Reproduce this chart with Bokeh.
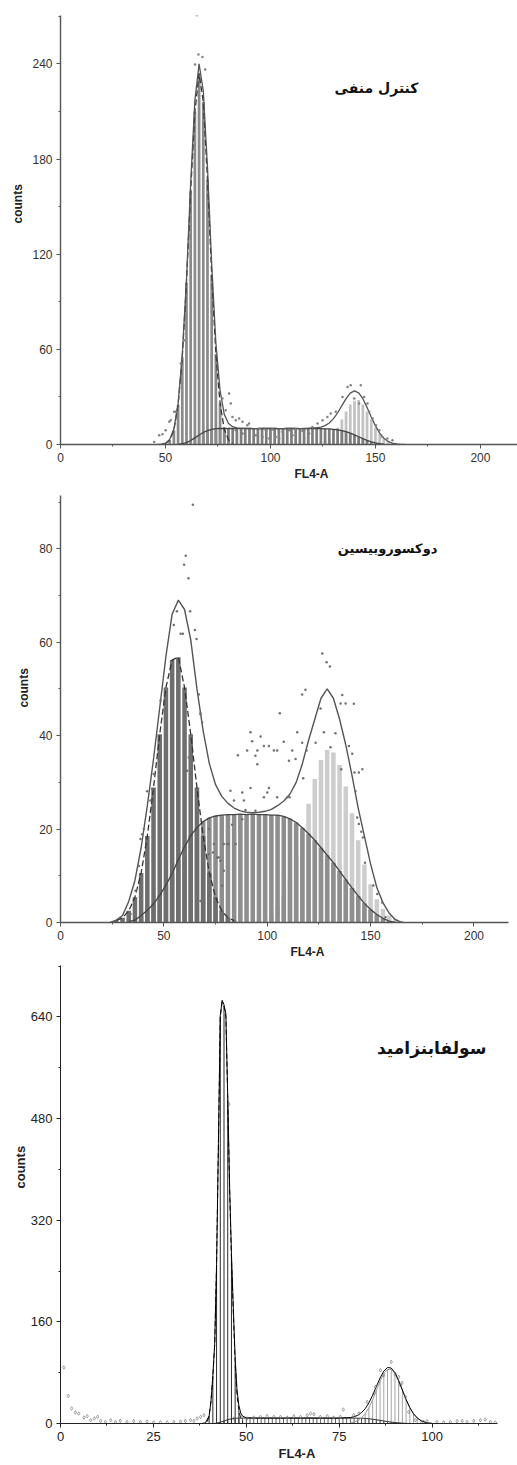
import math
from bokeh.plotting import figure
from bokeh.models import Range1d, FixedTicker, Label, Title
from bokeh.layouts import column
from bokeh.embed import file_html
from bokeh.resources import INLINE

# ---------------- Panel 1 : negative control ----------------
p1_title = "کنترل منفی"
p1_xticks = [0, 50, 100, 150, 200]
p1_xminor = [25, 75, 125, 175, 225]
p1_yticks = [0, 60, 120, 180, 240]
p1_yminor = [30, 90, 150, 210, 270]

p1_g1_x = [50, 52, 54, 56, 58, 60, 62, 64, 66, 68, 70, 72, 74, 76, 78, 80, 82]
p1_g1_y = [0.5, 2.8, 9, 25, 55, 102, 160, 210, 234, 216, 167, 107, 57, 26, 9.5, 3, 0.6]

p1_s_x = [56, 58, 60, 62, 64, 66, 68, 70, 72, 74, 76, 78, 80, 82, 84, 86, 88, 90, 92, 94,
          96, 98, 100, 102, 104, 106, 108, 110, 112, 114, 116, 118, 120, 122, 124, 126,
          128, 130, 132, 134, 136, 138, 140, 142, 144, 146, 148, 150, 152, 154]
p1_s_y = [0, 0.5, 1.2, 2.5, 4.2, 6.0, 7.6, 8.8, 9.6, 10.0, 10.1, 10.2, 10.1, 10.1, 10.0, 10.1,
          10.2, 10.1, 10.0, 10.0, 10.1, 10.1, 10.2, 10.1, 10.0, 10.0, 10.1, 10.2, 10.1, 10.0,
          10.0, 10.1, 10.1, 10.0, 10.0, 9.9, 9.8, 9.6, 9.3, 8.8, 8.1, 7.2, 6.1, 4.9, 3.7, 2.6,
          1.7, 1.0, 0.5, 0.2]

p1_g2_x = [124, 126, 128, 130, 132, 134, 136, 138, 140, 142, 144, 146, 148, 150, 152, 154,
           156, 158, 160, 162]
p1_g2_y = [0.9, 2.0, 3.8, 6.7, 10.7, 15.7, 20.8, 25.2, 27.6, 28.0, 25.2, 20.8, 15.7, 10.7,
           6.7, 3.8, 2.0, 0.9, 0.4, 0.1]

p1_fit_x = [46, 48, 50, 52, 54, 56, 58, 60, 62, 64, 66, 68, 70, 72, 74, 76, 78, 80, 82, 84,
            86, 88, 90, 92, 94, 96, 98, 100, 102, 104, 106, 108, 110, 112, 114, 116, 118, 120,
            122, 124, 126, 128, 130, 132, 134, 136, 138, 140, 142, 144, 146, 148, 150, 152,
            154, 156, 158, 160, 162, 164]
p1_fit_y = [0, 0.2, 0.8, 3.2, 9.8, 25.5, 56.5, 104, 165, 217, 240, 223, 175, 114, 64, 34, 19,
            13.2, 11.2, 10.5, 10.2, 10.2, 10.1, 10.0, 10.0, 10.1, 10.1, 10.2, 10.1, 10.0, 10.0,
            10.1, 10.2, 10.1, 10.0, 10.1, 10.2, 10.4, 10.6, 10.9, 11.9, 13.6, 16.3, 20.0, 24.5,
            28.9, 32.4, 33.8, 32.6, 28.9, 23.4, 17.4, 11.7, 7.2, 4.0, 2.0, 0.9, 0.4, 0.1, 0]

p1_dot_x = [44.6, 47, 48.6, 50.1, 51.8, 52.5, 54.1, 54.9, 57.3, 58.9, 64.9, 65.7, 67.6, 64.1,
            68.9, 77.1, 80.3, 78.7, 81.1, 81.9, 83.5, 85.1, 86.7, 89, 89.8, 83.5, 86.7, 93,
            96.2, 99.4, 102.5, 94.6, 97.8, 101, 105.7, 108.9, 112, 115.2, 104.1, 110.5, 116,
            118.4, 120, 122.4, 124.8, 127.1, 128.7, 131.1, 134.3, 136.7, 138.2, 143, 144.6,
            146.2, 147, 148.6, 150.2, 151.8, 153.3, 155.7, 158.1, 139.9, 142.2]
p1_dot_y = [1.6, 5.9, 6.5, 9, 14.3, 15.3, 20.6, 20.6, 51.1, 65.8, 270.7, 245.9, 244.4, 239.6,
            236.4, 29, 32.2, 21.6, 25.9, 17.4, 15.3, 16.4, 14.3, 12.2, 13.2, 9, 6.9, 5.9, 4.8,
            3.8, 4.8, 10.1, 9, 9.5, 8, 9, 9.5, 8.6, 3.8, 5.9, 3.8, 6.9, 11.1, 13.2, 15.3, 17.4,
            19.5, 20.6, 30, 36.3, 37.4, 37.4, 30, 25.9, 20.6, 16.4, 12.2, 9, 4.8, 3.8, 2.7,
            29, 25.9]

# ---------------- Panel 2 : doxorubicin ----------------
p2_title = "دوکسوروبیسین"
p2_xticks = [0, 50, 100, 150, 200]
p2_xminor = [25, 75, 125, 175]
p2_yticks = [0, 20, 40, 60, 80]
p2_yminor = [10, 30, 50, 70, 90]

p2_g1_x = [27, 30, 33, 36, 39, 42, 45, 48, 51, 54, 57, 60, 63, 66, 69, 72, 75, 78, 81, 84]
p2_g1_y = [0.4, 1.0, 2.5, 5.4, 10.6, 18.5, 28.9, 40.3, 50.3, 56.2, 56.8, 50.3, 40.3, 28.9,
           18.5, 10.6, 5.4, 2.5, 1.0, 0.4]

p2_s_x = [33, 36, 39, 42, 45, 48, 51, 54, 57, 60, 63, 66, 69, 72, 75, 78, 81, 84, 87, 90, 93,
          96, 99, 102, 105, 108, 111, 114, 117, 120, 123, 126, 129, 132, 135, 138, 141, 144,
          147, 150, 153, 156, 159, 162]
p2_s_y = [0.2, 0.5, 1.5, 2.6, 4.0, 5.8, 8.0, 10.5, 13.5, 16.2, 18.6, 20.3, 21.6, 22.4, 22.8,
          23.0, 23.1, 23.1, 23.2, 23.1, 23.2, 23.1, 23.1, 23.0, 23.0, 22.7, 22.2, 21.4, 20.3,
          19.0, 17.6, 16.0, 14.4, 12.8, 11.0, 9.2, 7.4, 5.7, 4.1, 2.8, 1.7, 0.9, 0.3, 0.0]

p2_g2_x = [96, 99, 102, 105, 108, 111, 114, 117, 120, 123, 126, 129, 132, 135, 138, 141, 144,
           147, 150, 153, 156, 159, 162, 165]
p2_g2_y = [0.5, 1.0, 1.9, 3.5, 5.9, 9.4, 14.1, 19.5, 25.4, 30.7, 34.8, 36.9, 36.4, 33.7, 29.1,
           23.4, 17.6, 12.4, 8.2, 5.0, 2.9, 1.5, 0.8, 0.4]

p2_fit_x = [24, 27, 30, 33, 36, 39, 42, 45, 48, 51, 54, 57, 60, 63, 66, 69, 72, 75, 78, 81, 84,
            87, 90, 93, 96, 99, 102, 105, 108, 111, 114, 117, 120, 123, 126, 129, 132, 135,
            138, 141, 144, 147, 150, 153, 156, 159, 162, 165]
p2_fit_y = [0, 0.5, 1.5, 4.5, 9, 16, 25, 35, 46, 57, 66, 69, 67, 60.5, 50, 41, 34, 29.5, 27,
            25.5, 24.5, 23.9, 23.6, 23.5, 23.6, 23.8, 24.2, 25, 26, 27.5, 30, 34, 39, 43.5, 48,
            50, 48, 43.5, 38, 31.5, 24.5, 18.5, 12.5, 7.5, 4.2, 2.0, 0.6, 0]

p2_dot_x = [64.0, 60.6, 59.8, 61.9, 56.3, 62.7, 54.8, 58.1, 59.2, 65.0, 65.8, 66.9, 67.7,
            126.6, 128.7, 130.3, 118.5, 116.9, 125.8, 136.3, 135.5, 137.9, 106.1, 141.9,
            91.9, 96.8, 92.7, 90.3, 95.2, 98.4, 100.8, 103.2, 104.8, 94.3, 85.8, 95.2, 108,
            112.1, 113.7, 110.5, 116.9, 114.5, 119, 117.4, 123.4, 127.4, 133, 130.6, 135.8,
            139.5, 141.1, 142.2, 144.3, 146, 142.7, 143.5, 144.3, 145.5, 146.3, 147.3, 151.3,
            153.2, 155.6, 157.2, 82.2, 83.9, 87.9, 88.7, 91.9, 98.4, 100, 100.8, 104.8, 109.7,
            110.8, 87.9, 94.3, 89.5, 83, 71.7, 71.7, 75.8, 76.6, 77.4, 79, 80.6, 81.4, 84.7,
            74.2, 78.2, 79, 66.1, 67.7, 73.8, 62.1, 61.3, 67.7, 68.5, 41.9, 44.4, 43.5, 40.3,
            39.5, 38.7, 37.9, 36.3, 33.9, 45.1, 48.4]
p2_dot_y = [89.4, 78.5, 76.6, 73.7, 66.6, 66.6, 63.7, 61.8, 61.8, 62.6, 60.7, 48.8, 44.8,
            57.6, 55.7, 54.8, 49.8, 48.8, 45.8, 48.7, 46.9, 46.9, 44.8, 46.8,
            40.7, 39.8, 38.8, 36.8, 36.8, 37.8, 37.8, 36.8, 36.8, 35.7, 35.8, 33.9, 38.7,
            36.8, 35.0, 34.6, 38.5, 40.7, 36.8, 30.9, 38.5, 40.7, 40.5, 37.5, 32.8,
            37.8, 36.1, 32.1, 32.1, 32.8, 28.1, 22.5, 21.1, 19.4, 18.2, 12.8, 7.9,
            6.1, 4.3, 1.1, 28.2, 26.1, 27.8, 26.1, 28.8, 26.8, 27.8, 28.8, 26.8, 26.8,
            26.8, 22.1, 23.9, 24.1, 20.9, 20, 14.6, 13.9, 13.9, 13.2, 16.8, 16.8, 16.8, 16.8,
            16.8, 7.9, 11.1, 5.4, 4.6, 15, 35.3, 32.5, 44.6, 42.8, 28.1, 28.6, 26.1, 20,
            18.9, 17.9, 12.1, 6.8, 1.8, 31.8, 47.5]

# ---------------- Panel 3 : sulfabenzamide ----------------
p3_title = "سولفابنزامید"
p3_xticks = [0, 25, 50, 75, 100]
p3_xminor = [12.5, 37.5, 62.5, 87.5, 112.5]
p3_yticks = [0, 160, 320, 480, 640]
p3_yminor = [80, 240, 400, 560, 720]

p3_g1_x = [39.5, 40, 40.5, 41, 41.5, 42, 42.5, 43, 43.5, 44, 44.5, 45, 45.5, 46, 46.5, 47,
           47.5, 48, 48.5, 49]
p3_g1_y = [3, 12, 35, 75, 125, 250, 440, 640, 663, 655, 640, 510, 370, 260, 175, 95, 45, 20,
           8, 3]

p3_s_x = [41, 42, 43, 44, 45, 46, 47, 48, 49, 50, 51, 52, 53, 54, 55, 56, 57, 58, 59, 60, 61,
          62, 63, 64, 65, 66, 67, 68, 69, 70, 71, 72, 73, 74, 75, 76, 77, 78, 79, 80, 81, 82,
          83, 84, 85, 86, 87, 88, 89, 90, 91, 92, 93, 94]
p3_s_y = [0, 0.5, 2, 4, 6, 7.5, 8.2, 8.5, 8.5, 8.6, 8.5, 8.4, 8.5, 8.6, 8.5, 8.5, 8.6, 8.5,
          8.4, 8.5, 8.5, 8.6, 8.5, 8.5, 8.4, 8.5, 8.6, 8.5, 8.5, 8.5, 8.6, 8.5, 8.4, 8.5, 8.5,
          8.6, 8.5, 8.5, 8.5, 8.4, 8.3, 8.0, 7.5, 6.8, 6.0, 5.0, 4.0, 3.0, 2.2, 1.5, 1.0, 0.5,
          0.2, 0]

p3_g2_x = [78, 79, 80, 81, 82, 83, 84, 85, 86, 87, 88, 89, 90, 91, 92, 93, 94, 95, 96, 97,
           98, 99]
p3_g2_y = [0.9, 2.2, 4.5, 8.7, 15.3, 25, 37.6, 52.2, 66.6, 78.4, 85.1, 85.1, 78.4, 66.6,
           52.2, 37.6, 25, 15.3, 8.7, 4.5, 2.2, 0.9]

p3_fit_x = [38, 39, 40, 40.5, 41, 41.5, 42, 42.5, 43, 43.5, 44, 44.5, 45, 45.5, 46, 46.5, 47,
            47.5, 48, 48.5, 49, 50, 52, 55, 60, 65, 70, 75, 78, 79, 80, 81, 82, 83, 84, 85,
            86, 87, 88, 89, 90, 91, 92, 93, 94, 95, 96, 97, 98, 99, 100]
p3_fit_y = [0, 1, 12, 35, 75, 125, 250, 441, 642, 666, 659, 645, 516, 377, 268, 183, 103, 53,
            28.5, 16.5, 11.5, 9, 8.6, 8.5, 8.5, 8.6, 8.5, 8.5, 9.4, 10.7, 12.9, 17, 23.3,
            32.5, 44.4, 58.2, 71.6, 82.4, 88.1, 87.3, 79.9, 67.6, 52.7, 37.8, 25, 15.3, 8.7,
            4.5, 2.2, 0.9, 0.3]

p3_dot_x = [0.9, 2.1, 3.0, 4.0, 4.9, 6.3, 7.2, 8.1, 9.1, 10, 10.8, 12.1, 13.5, 14.8, 16.1,
            17.9, 19.7, 21.5, 23.3, 25.1, 26.9, 28.7, 30.5, 32.3, 33.6, 35, 35.9, 36.8, 37.7,
            38.6, 86.1, 89, 87, 90.1, 91, 91.9, 91.5, 84.7, 84.3, 82.5, 80.3, 78.9, 76.1,
            93.7, 92.8, 95.5, 97.7, 98.6, 101.3, 103.1, 104.9, 106.7, 108.1, 109.4, 111.2,
            113, 114.3, 115.7, 117, 46.6, 48.4, 50.2, 52, 53.8, 55.6, 57.4, 59.2, 61, 62.8,
            64.6, 66.4, 67.3, 68.2, 69.9, 71.8, 73.5, 75.3, 45.3]
p3_dot_y = [88, 43.5, 23.6, 17.3, 15.7, 9.4, 11.5, 5.2, 7.9, 10.4, 4.1, 2.5, 5.2, 2.5, 4.1,
            2.5, 3.6, 2.5, 3.1, 1.6, 2, 1.6, 2.5, 3.1, 4.1, 5.2, 4.1, 7.9, 10.4, 13.1, 83.9,
            97, 76, 77.6, 73.3, 63.9, 60.3, 57.6, 47.2, 34, 15.7, 13.1, 22, 18.3, 41.9, 5.2,
            2.5, 3.6, 2.5, 2, 2.5, 3.6, 4.1, 2.5, 4.1, 5.2, 6.3, 2.5, 1.6, 7.9, 10.4, 7.9,
            9.4, 10.4, 11.5, 10.4, 10.4, 9.4, 11.5, 10.4, 13.1, 15.7, 14.6, 10.4, 11.5, 9.4,
            10.4, 502.5]

TICK_FONT = "Liberation Sans"
TITLE_FONT = "DejaVu Sans"


def make_fig(fw, fh, mbl, mbr, mbt, mbb, xend, yend):
    p = figure(frame_width=fw, frame_height=fh, output_backend="svg", toolbar_location=None,
               x_range=Range1d(0, xend), y_range=Range1d(0, yend),
               min_border_left=mbl, min_border_right=mbr, min_border_top=mbt,
               min_border_bottom=mbb)
    p.grid.visible = False
    p.outline_line_color = None
    p.background_fill_color = "white"
    p.border_fill_color = "white"
    return p


def style_axes(p, xt, xm, yt, ym, color, lw, fsize, lblcolor):
    p.xaxis.ticker = FixedTicker(ticks=xt, minor_ticks=xm)
    p.yaxis.ticker = FixedTicker(ticks=yt, minor_ticks=ym)
    for ax in (p.xaxis[0], p.yaxis[0]):
        ax.axis_line_color = color
        ax.axis_line_width = lw
        ax.major_tick_line_color = color
        ax.minor_tick_line_color = color
        ax.major_tick_out = 4
        ax.major_tick_in = 0
        ax.minor_tick_out = 2
        ax.minor_tick_in = 0
        ax.major_label_text_font = TICK_FONT
        ax.major_label_text_font_size = fsize
        ax.major_label_text_color = lblcolor
        ax.major_label_standoff = 4


def add_labels(p, title, tx, ty, tsize, c_off, c_stand, f_off, lsize):
    p.add_layout(Label(x=tx, y=ty, text=title, text_font=TITLE_FONT, text_font_style="bold",
                       text_font_size=tsize, text_align="center", text_baseline="middle",
                       text_color="#111111"))
    p.add_layout(Title(text="counts", align="left", offset=c_off, standoff=c_stand,
                       text_font=TICK_FONT, text_font_style="bold", text_font_size=lsize,
                       text_color="#222222"), "left")
    p.add_layout(Title(text="FL4-A", align="left", offset=f_off, standoff=0,
                       text_font=TICK_FONT, text_font_style="bold", text_font_size=lsize,
                       text_color="#222222"), "below")


# ---------- figure 1 ----------
p1 = make_fig(459, 429, 58, 0, 15, 30, 218.6, 270.5)
style_axes(p1, p1_xticks, p1_xminor, p1_yticks, p1_yminor, "#555555", 1.4, "12px", "#333333")
p1.vbar(x=p1_g2_x, top=p1_g2_y, width=1.3, fill_color="#c2c2c2", line_color=None)
p1.vbar(x=p1_s_x, top=p1_s_y, width=1.3, fill_color="#7d7d7d", line_color=None)
p1.vbar(x=p1_g1_x, top=p1_g1_y, width=1.3, fill_color="#8a8a8a", line_color=None)
p1.line(p1_s_x, p1_s_y, line_color="#444444", line_width=1.3)
p1.line(p1_g1_x, p1_g1_y, line_color="#333333", line_width=1.3, line_dash="6 3")
p1.line(p1_fit_x, p1_fit_y, line_color="#555555", line_width=1.3)
p1.scatter(p1_dot_x, p1_dot_y, size=2.5, color="#808080", line_color=None)
add_labels(p1, p1_title, 150.5, 224.7, "14px", 221, 10, 234, "12px")

# ---------- figure 2 ----------
p2 = make_fig(448, 427, 60, 9, 15, 30, 216.7, 91.4)
style_axes(p2, p2_xticks, p2_xminor, p2_yticks, p2_yminor, "#555555", 1.4, "12px", "#333333")
p2.vbar(x=p2_g2_x, top=p2_g2_y, width=2.2, fill_color="#cdcdcd", line_color=None)
p2.vbar(x=p2_s_x, top=p2_s_y, width=2.2, fill_color="#8e8e8e", line_color=None)
p2.vbar(x=p2_g1_x, top=p2_g1_y, width=2.2, fill_color="#6e6e6e", line_color=None)
p2.line(p2_s_x, p2_s_y, line_color="#444444", line_width=1.3)
p2.line(p2_g1_x, p2_g1_y, line_color="#333333", line_width=1.3, line_dash="6 3")
p2.line(p2_fit_x, p2_fit_y, line_color="#555555", line_width=1.4)
p2.scatter(p2_dot_x, p2_dot_y, size=2.5, color="#707070", line_color=None)
add_labels(p2, p2_title, 158.2, 80.0, "13px", 215, 11, 230, "12px")

# ---------- figure 3 ----------
p3 = make_fig(437, 458, 60, 20, 7, 30, 117.6, 720.8)
style_axes(p3, p3_xticks, p3_xminor, p3_yticks, p3_yminor, "#222222", 1.0, "13px", "#222222")
g1_bar_x = [x for x in p3_g1_x if float(x).is_integer()]
g1_bar_y = [y for x, y in zip(p3_g1_x, p3_g1_y) if float(x).is_integer()]
p3.segment(x0=p3_g2_x, y0=0, x1=p3_g2_x, y1=p3_g2_y, line_color="#9a9a9a", line_width=0.9)
p3.segment(x0=p3_s_x, y0=0, x1=p3_s_x, y1=p3_s_y, line_color="#333333", line_width=0.8)
p3.segment(x0=g1_bar_x, y0=0, x1=g1_bar_x, y1=g1_bar_y, line_color="#111111", line_width=0.9)
p3.line(p3_s_x, p3_s_y, line_color="#333333", line_width=1.0)
p3.line(p3_g2_x, p3_g2_y, line_color="#999999", line_width=1.0)
p3.line(p3_g1_x, p3_g1_y, line_color="#111111", line_width=1.0, line_dash="5 3")
p3.line(p3_fit_x, p3_fit_y, line_color="#000000", line_width=1.0)
p3.scatter(p3_dot_x, p3_dot_y, marker="diamond", size=3.5, fill_color=None,
           line_color="#777777", line_width=0.7)
add_labels(p3, p3_title, 99.9, 590.6, "17px", 235, 0, 218, "13px")

layout = column(p1, p2, p3, spacing=0)
open("out.html", "w").write(file_html(layout, INLINE))
